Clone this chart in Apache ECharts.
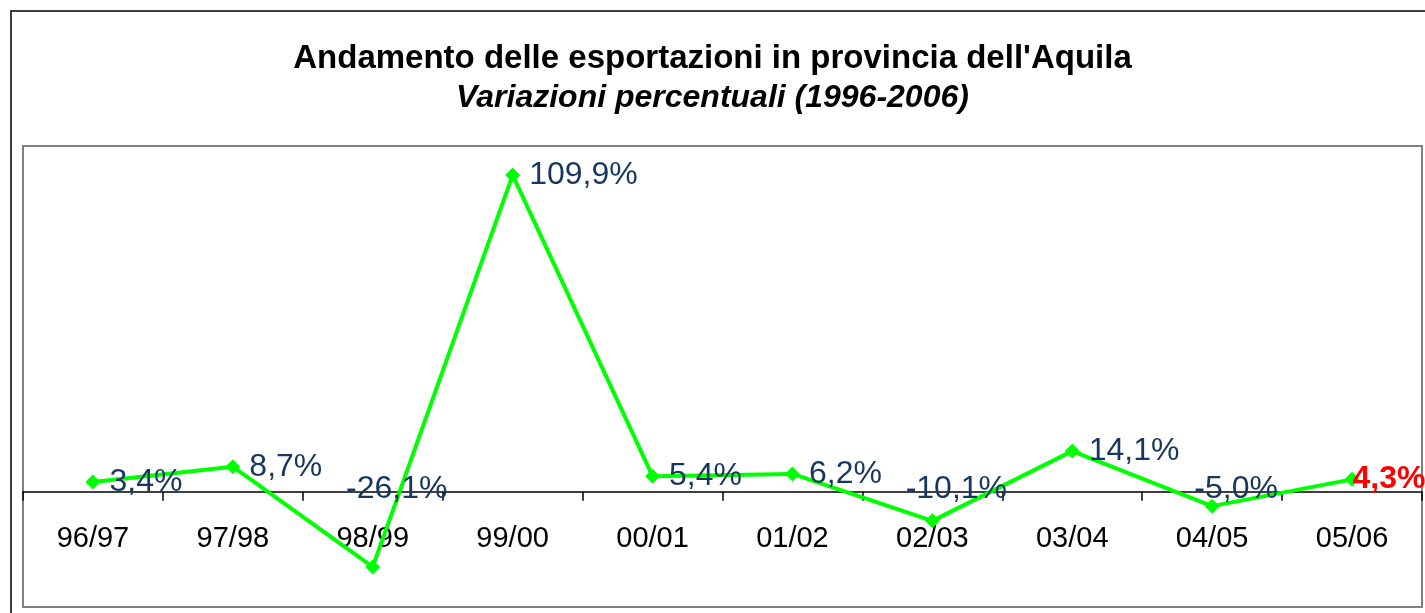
<!DOCTYPE html>
<html>
<head>
<meta charset="utf-8"/>
<style>
    html,body { height:100%; width:100%; margin:0; padding:0; background:#fff; }
    #main { width:1425px; height:613px; }
</style>
</head>
<body>
<div id="main"></div>
<script src="https://cdn.jsdelivr.net/npm/echarts@6/dist/echarts.min.js"></script>
<script type="text/javascript">

 // dati
 var anni = ['96/97', '97/98', '98/99', '99/00', '00/01', '01/02', '02/03', '03/04', '04/05', '05/06'];
 var variazioni = [3.4, 8.7, -26.1, 109.9, 5.4, 6.2, -10.1, 14.1, -5.0, 4.3];
 var titolo = "Andamento delle esportazioni in provincia dell'Aquila";
 var sottotitolo = 'Variazioni percentuali (1996-2006)';

 function fmt(v) {
     return v.toFixed(1).replace('.', ',') + '%';
 }

 var blu = '#17375E';
 var font = 'Liberation Sans, Arial';
 var ultimo = variazioni.length - 1;

 // punti della linea: etichetta a destra solo per i valori positivi
 var puntiLinea = variazioni.map(function (v, i) {
     var item = { value: v };
     if (i === ultimo) {
         item.label = { color: '#FF0000', fontWeight: 'bold', offset: [-16, 0] };
     }
     return item;
 });

 // etichette dei valori negativi, appoggiate sull'asse dello zero
 var etichetteNeg = [];
 variazioni.forEach(function (v, i) {
     if (v < 0) etichetteNeg.push({ value: [anni[i], 0], testo: fmt(v) });
 });

 // etichette delle categorie sotto la linea dello zero
 var etichetteAsse = anni.map(function (a) { return [a, 0]; });

 var myChart = echarts.init(document.getElementById('main'));

 var option = {
     animation: false,
     title: [
         {
             text: titolo,
             left: 'center',
             top: 37,
             textStyle: { fontFamily: font, fontSize: 33, fontWeight: 'bold', color: '#000' }
         },
         {
             text: sottotitolo,
             left: 'center',
             top: 77,
             textStyle: { fontFamily: font, fontSize: 32, fontWeight: 'bold', fontStyle: 'italic', color: '#000' }
         }
     ],
     graphic: [
         {
             type: 'rect',
             shape: { x: 11, y: 11, width: 1600, height: 800 },
             style: { fill: 'none', stroke: '#000', lineWidth: 1.5 },
             z: -1
         }
     ],
     grid: {
         left: 23,
         right: 3,
         top: 146,
         bottom: 6,
         containLabel: false,
         outerBoundsMode: 'none',
         show: true,
         borderColor: '#808080',
         borderWidth: 2,
         backgroundColor: '#fff'
     },
     xAxis: {
         type: 'category',
         data: anni,
         boundaryGap: true,
         axisLine: { onZero: true, lineStyle: { color: '#000', width: 1.5 } },
         axisTick: { show: true, length: 9, lineStyle: { color: '#000', width: 1.5 } },
         axisLabel: { show: false },
         splitLine: { show: false }
     },
     yAxis: {
         type: 'value',
         min: -40,
         max: 120,
         show: false,
         splitLine: { show: false }
     },
     series: [
         {
             type: 'scatter',
             data: etichetteAsse,
             symbolSize: 0,
             silent: true,
             itemStyle: { opacity: 1 },
             label: {
                 show: true,
                 position: 'inside',
                 offset: [0, 47],
                 color: '#000',
                 fontSize: 29,
                 fontFamily: font,
                 formatter: function (p) { return p.value[0]; }
             },
             z: 1
         },
         {
             type: 'line',
             data: puntiLinea,
             symbol: 'diamond',
             symbolSize: 15,
             lineStyle: { color: '#00FF00', width: 4 },
             itemStyle: { color: '#00FF00' },
             label: {
                 show: true,
                 position: 'right',
                 distance: 9,
                 color: blu,
                 fontSize: 32,
                 fontFamily: font,
                 formatter: function (p) {
                     return p.value < 0 ? '' : fmt(p.value);
                 }
             },
             z: 2
         },
         {
             type: 'scatter',
             data: etichetteNeg,
             symbolSize: 0,
             silent: true,
             itemStyle: { opacity: 1 },
             label: {
                 show: true,
                 position: 'inside',
                 offset: [24, -3],
                 color: blu,
                 fontSize: 32,
                 fontFamily: font,
                 formatter: function (p) { return p.data.testo; }
             },
             z: 3
         }
     ]
 };

 myChart.setOption(option);

</script>
</body>
</html>
